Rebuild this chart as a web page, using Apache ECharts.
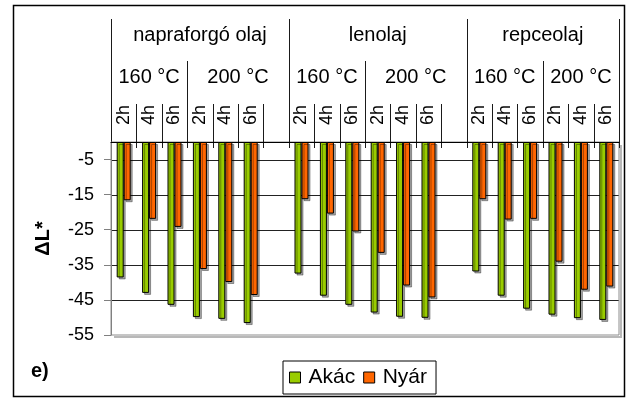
<!DOCTYPE html>
<html>
<head>
<meta charset="utf-8">
<script src="https://cdn.jsdelivr.net/npm/echarts@6/dist/echarts.min.js"></script>
<style>
  html, body { margin: 0; padding: 0; background: #fff; }
  #chart { width: 631px; height: 399px; }
</style>
</head>
<body>
<div id="chart"></div>
<script>
// Grouping levels of the category axis (outer to inner)
const oils = ['napraforgó olaj', 'lenolaj', 'repceolaj'];
const temps = ['160 °C', '200 °C'];
const hours = ['2h', '4h', '6h'];

// ΔL* values, ordered oil → temperature → duration
const akac = [
  -38.6, -43.0, -46.4, -49.9, -50.4, -51.6,
  -37.5, -43.8, -46.4, -48.6, -49.8, -50.1,
  -36.9, -43.8, -47.5, -49.2, -50.2, -50.7
];
const nyar = [
  -16.6, -21.9, -24.2, -36.2, -39.9, -43.6,
  -16.3, -20.4, -25.5, -31.6, -40.9, -44.3,
  -16.3, -22.1, -21.9, -34.1, -42.1, -41.2
];

const seriesNames = ['Akác', 'Nyár'];
const yTicks = [-55, -45, -35, -25, -15, -5];
const yName = 'ΔL*';
const panelTag = 'e)';

const FONT = '"Liberation Sans", Arial, Helvetica, sans-serif';

// Flatten the hierarchy into one category list; an empty slot follows
// every oil block except the last one.
const categories = [];
const groupOf = [];
const akacData = [];
const nyarData = [];
let n = 0;
oils.forEach((oil, oi) => {
  temps.forEach((t, ti) => {
    hours.forEach(h => {
      categories.push(oil + '|' + t + '|' + h);
      groupOf.push({ oil: oi, temp: ti });
      akacData.push(akac[n]);
      nyarData.push(nyar[n]);
      n++;
    });
  });
  if (oi < oils.length - 1) {
    categories.push(oil + '|' + temps[temps.length - 1] + '|');
    groupOf.push({ oil: oi, temp: temps.length - 1 });
    akacData.push(null);
    nyarData.push(null);
  }
});

const chart = echarts.init(document.getElementById('chart'), null, { renderer: 'canvas' });

const barStyle = (color) => ({
  color: color,
  borderColor: '#000',
  borderWidth: 1,
  shadowColor: 'rgba(0,0,0,0.35)',
  shadowOffsetX: 2,
  shadowOffsetY: 2,
  shadowBlur: 0
});

const option = {
  animation: false,
  backgroundColor: '#fff',
  textStyle: { fontFamily: FONT },
  title: {
    text: panelTag,
    left: 31,
    top: 361,
    padding: 0,
    textStyle: { fontFamily: FONT, fontSize: 20, fontWeight: 'bold', color: '#000' }
  },
  grid: {
    left: 111, right: 12, top: 142, bottom: 64,
    show: true,
    backgroundColor: 'transparent',
    borderColor: '#8c8c8c',
    borderWidth: 1
  },
  legend: {
    data: seriesNames,
    left: 283,
    top: 361,
    padding: [6, 9, 6, 6],
    itemGap: 8,
    itemWidth: 11,
    itemHeight: 11,
    icon: 'rect',
    borderColor: '#000',
    borderWidth: 1,
    backgroundColor: '#fff',
    itemStyle: { borderColor: '#000', borderWidth: 1, shadowColor: 'rgba(0,0,0,0)' },
    textStyle: { fontFamily: FONT, fontSize: 21, color: '#000', padding: [0, 0, 0, 3] }
  },
  xAxis: {
    type: 'category',
    position: 'top',
    data: categories,
    axisLine: { show: true, lineStyle: { color: '#000', width: 1 } },
    axisTick: { show: false },
    splitLine: { show: false },
    axisLabel: {
      interval: 0,
      rotate: 90,
      margin: 17,
      fontSize: 18,
      color: '#000',
      fontFamily: FONT,
      formatter: (v) => v.split('|')[2]
    }
  },
  yAxis: {
    type: 'value',
    min: -55,
    max: 0,
    interval: 5,
    name: yName,
    nameLocation: 'middle',
    nameRotate: 90,
    nameGap: 58,
    nameTextStyle: { fontFamily: FONT, fontSize: 20, fontWeight: 'bold', color: '#000' },
    axisLine: { show: true, lineStyle: { color: '#808080', width: 1 } },
    axisTick: { show: true, length: 7, customValues: yTicks, lineStyle: { color: '#808080' } },
    axisLabel: { customValues: yTicks, margin: 17, fontSize: 18, color: '#000', fontFamily: FONT },
    splitLine: { show: false }
  },
  series: [
    { name: seriesNames[0], type: 'bar', data: akacData, barWidth: 7, barGap: '0%', itemStyle: barStyle('#99CC00') },
    { name: seriesNames[1], type: 'bar', data: nyarData, barWidth: 7, barGap: '0%', itemStyle: barStyle('#FF6600') }
  ]
};

chart.setOption(option);

// Header separators, group titles and horizontal gridlines, all placed
// through the axes' own value-to-pixel conversion.
function buildDecor() {
  const N = categories.length;
  const c0 = chart.convertToPixel({ xAxisIndex: 0 }, 0);
  const c1 = chart.convertToPixel({ xAxisIndex: 0 }, 1);
  const band = c1 - c0;
  const edge = (i) => c0 - band / 2 + i * band;
  const yPix = (v) => chart.convertToPixel({ yAxisIndex: 0 }, v);
  const axisY = yPix(0);
  const baseY = yPix(-55);
  const left = edge(0);
  const right = edge(N);
  const levelTop = [19, 61, 104];
  const elements = [];

  // horizontal gridlines at the labelled values (bottom one is the plot border)
  yTicks.filter(v => v !== -55).forEach(v => {
    const y = Math.round(yPix(v)) + 0.5;
    elements.push({
      type: 'line', silent: true, z: -1,
      shape: { x1: left, y1: y, x2: right, y2: y },
      style: { stroke: '#222', lineWidth: 1 }
    });
  });

  for (let i = 0; i <= N; i++) {
    let level = 2;
    if (i === 0 || i === N || groupOf[i].oil !== groupOf[i - 1].oil) level = 0;
    else if (groupOf[i].temp !== groupOf[i - 1].temp) level = 1;
    const x = Math.round(edge(i)) + 0.5;
    elements.push({
      type: 'line',
      silent: true,
      shape: { x1: x, y1: levelTop[level], x2: x, y2: Math.round(axisY) + 6 },
      style: { stroke: '#1a1a1a', lineWidth: 1 }
    });
  }

  // soft drop shadow along the right and bottom edges of the plot area
  elements.push({
    type: 'polyline', silent: true, z: -2,
    shape: { points: [[Math.round(right) + 2, Math.round(axisY) + 3], [Math.round(right) + 2, Math.round(baseY) + 2], [Math.round(left) + 3, Math.round(baseY) + 2]] },
    style: { stroke: 'rgba(0,0,0,0.28)', lineWidth: 2, fill: null }
  });

  // spans of each oil and each oil/temperature block
  oils.forEach((oil, oi) => {
    const idx = groupOf.map((g, i) => (g.oil === oi ? i : -1)).filter(i => i >= 0);
    const xm = (edge(idx[0]) + edge(idx[idx.length - 1] + 1)) / 2;
    elements.push({
      type: 'text', silent: true, x: xm, y: 35,
      style: { text: oil, fontFamily: FONT, fontSize: 20, fill: '#000', align: 'center', verticalAlign: 'middle' }
    });
    temps.forEach((t, ti) => {
      const tdx = idx.filter(i => groupOf[i].temp === ti);
      const xt = (edge(tdx[0]) + edge(tdx[tdx.length - 1] + 1)) / 2;
      elements.push({
        type: 'text', silent: true, x: xt, y: 77,
        style: { text: t, fontFamily: FONT, fontSize: 20, fill: '#000', align: 'center', verticalAlign: 'middle' }
      });
    });
  });

  // outer frame
  elements.push({
    type: 'rect', silent: true, z: -10,
    shape: { x: 13.5, y: 5.5, width: 611, height: 391 },
    style: { fill: 'none', stroke: '#000', lineWidth: 1.5 }
  });

  chart.setOption({ graphic: { elements: elements } });
}
buildDecor();
</script>
</body>
</html>
